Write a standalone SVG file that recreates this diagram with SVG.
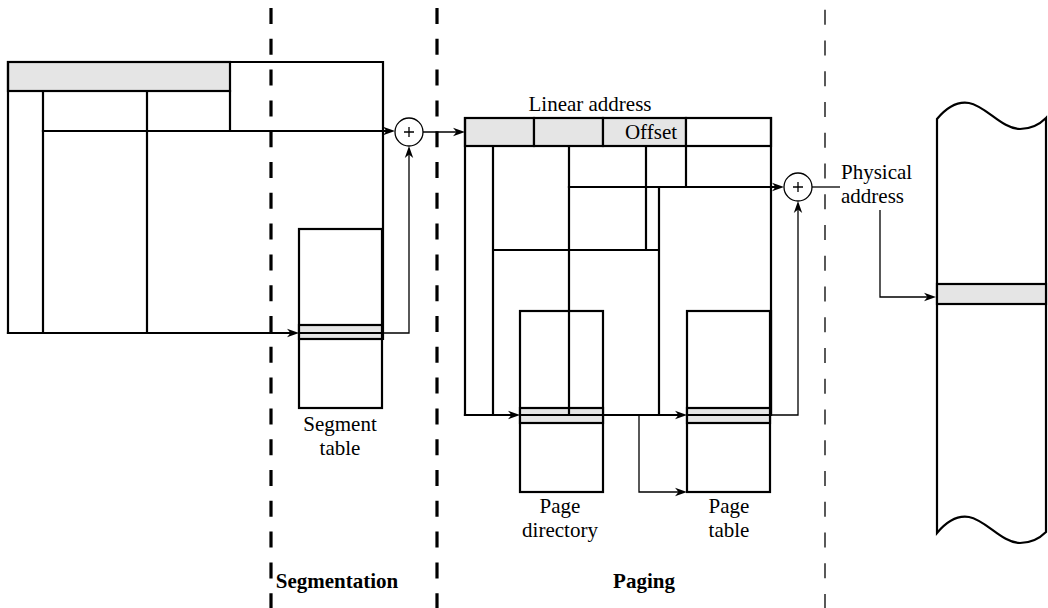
<svg xmlns="http://www.w3.org/2000/svg" width="1048" height="608" viewBox="0 0 1048 608">
<style>
.s{fill:none;stroke:#000;stroke-width:2.2;stroke-linecap:square}
.t{fill:none;stroke:#000;stroke-width:1.3}
.g{fill:#e5e5e5;stroke:#000;stroke-width:2.2}
.w{fill:#fff;stroke:#000;stroke-width:2.2}
.c{fill:#fff;stroke:#000;stroke-width:1.3}
.txt{font-family:"Liberation Serif","Times New Roman",serif;font-size:21px;fill:#000}
.b{font-weight:bold}
.dk{stroke:#000;stroke-width:3.2;stroke-dasharray:16 14.8;fill:none}
.dn{stroke:#000;stroke-width:1.3;stroke-dasharray:15 15.75;fill:none}
</style>
<defs>
<marker id="ah" markerUnits="userSpaceOnUse" markerWidth="14" markerHeight="10" refX="8" refY="5" orient="auto">
<path d="M0,0.8 L12,5 L0,9.2 L3.5,5 z" fill="#000"/>
</marker>
</defs>
<rect width="1048" height="608" fill="#fff"/>
<g id="dividers">
<line class="dk" x1="271" y1="8" x2="271" y2="608"/>
<line class="dk" x1="437" y1="8" x2="437" y2="608"/>
<line class="dn" x1="825" y1="9.75" x2="825" y2="608"/>
</g>
<g id="logical-address">
<rect class="g" x="8" y="62" width="222" height="29"/>
<path class="s" d="M8,62 H383 M8,62 V333 M43,91 V333 M147,91 V333 M230,91 V131 M383,62 V339"/>
</g>
<g id="segment-table">
<rect class="w" x="299" y="229" width="83" height="179"/>
<rect class="g" x="299" y="325" width="83" height="14"/>
<path class="s" d="M299,333 H382"/>
<text class="txt" x="340" y="431" text-anchor="middle">Segment</text>
<text class="txt" x="340" y="455" text-anchor="middle">table</text>
</g>
<g id="adder1">
<circle class="c" cx="409" cy="132" r="14"/>
<path class="t" d="M404,132 H414 M409,127 V137" stroke-width="1"/>
</g>
<g id="linear-address">
<rect class="g" x="465" y="118" width="69" height="28"/>
<rect class="g" x="534" y="118" width="69" height="28"/>
<rect class="g" x="603" y="118" width="83" height="28"/>
<rect class="w" x="686" y="118" width="85" height="28"/>
<text class="txt" x="590" y="111" text-anchor="middle">Linear address</text>
<text class="txt" x="651" y="139" text-anchor="middle">Offset</text>
</g>
<g id="paging-structure">
<path class="s" d="M465,118 V415 M493,146 V415 M569,146 V415 M646,146 V250 M659,187 V415 M686,146 V187 M771,118 V415 M493,250 H659"/>
</g>
<g id="page-directory">
<rect class="w" x="520" y="311" width="83" height="181"/>
<rect class="g" x="520" y="408" width="83" height="15"/>
<path class="s" d="M520,415 H603 M569,311 V415"/>
<text class="txt" x="560" y="513" text-anchor="middle">Page</text>
<text class="txt" x="560" y="537" text-anchor="middle">directory</text>
</g>
<g id="page-table">
<rect class="w" x="687" y="311" width="83" height="181"/>
<rect class="g" x="687" y="408" width="83" height="15"/>
<path class="s" d="M687,415 H770 M771,311 V415"/>
<text class="txt" x="729" y="513" text-anchor="middle">Page</text>
<text class="txt" x="729" y="537" text-anchor="middle">table</text>
</g>
<g id="adder2">
<circle class="c" cx="798" cy="187" r="14"/>
<path class="t" d="M793,187 H803 M798,182 V192" stroke-width="1"/>
</g>
<g id="physical-memory">
<path class="s" stroke-linecap="butt" d="M937,533 V119 C947,107 957,101 969,103 C986,106 1002,129 1020,129 C1032,129 1040,124 1046,118 V532 C1040,538 1032,543 1020,543 C1002,543 986,520 969,517 C957,515 947,521 937,533 Z" fill="#fff"/>
<rect class="g" x="937" y="284" width="109" height="20"/>
</g>
<g id="connectors">
<path class="s" d="M43,131 H391" marker-end="url(#ah)"/>
<path class="s" d="M8,333 H295" marker-end="url(#ah)"/>
<path class="t" d="M383,333 H409 V150" marker-end="url(#ah)"/>
<path class="t" d="M423,132 H461" marker-end="url(#ah)"/>
<path class="s" d="M569,187 H780" marker-end="url(#ah)"/>
<path class="t" d="M771,415 H798 V205" marker-end="url(#ah)"/>
<path class="s" d="M465,415 H516" marker-end="url(#ah)"/>
<path class="s" d="M603,415 H683" marker-end="url(#ah)"/>
<path class="t" d="M639,415 V492 H683" marker-end="url(#ah)"/>
<path class="t" d="M812,187 H840"/>
<path class="t" d="M880,210 V297 H932" marker-end="url(#ah)"/>
</g>
<g id="labels">
<text class="txt" x="841" y="179">Physical</text>
<text class="txt" x="841" y="203">address</text>
<text class="txt b" x="337" y="588" text-anchor="middle">Segmentation</text>
<text class="txt b" x="644" y="588" text-anchor="middle">Paging</text>
</g>
</svg>
